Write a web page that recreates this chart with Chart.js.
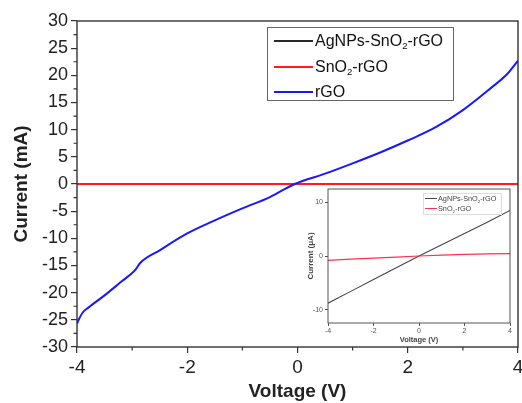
<!DOCTYPE html>
<html>
<head>
<meta charset="utf-8">
<script src="https://cdn.jsdelivr.net/npm/chart.js@4.4.1/dist/chart.umd.min.js"></script>
<style>
html, body { margin: 0; padding: 0; background: #fff; }
#wrap { position: relative; width: 522px; height: 403px; overflow: hidden; font-family: "Liberation Sans", Arial, sans-serif; }
#main { position: absolute; left: 0; top: 0; }
#inset { position: absolute; left: 296px; top: 186px; background: #fff; }
.legend { position: absolute; color: #111; }
.legend .row { position: absolute; left: 0; display: flex; align-items: center; white-space: nowrap; }
.legend .sw { display: inline-block; }
.legend sub { font-size: 0.6em; vertical-align: -0.35em; line-height: 0; }
</style>
</head>
<body>
<div id="wrap">
  <canvas id="main" width="522" height="403"></canvas>
  <canvas id="inset" width="220" height="158"></canvas>
  <div id="legendMain" class="legend"></div>
  <div id="legendInset" class="legend"></div>
</div>
<script>
// series names + colours
const seriesNames = ['AgNPs-SnO₂-rGO', 'SnO₂-rGO', 'rGO'];
const seriesColors = ['#2a2a2a', '#ff1c1c', '#1818ff'];

// rGO sweep, main plot (V, mA)
const rgoVoltage = [-4, -3.97, -3.9, -3.8, -3.5, -3.2, -2.95, -2.85, -2.5, -2, -1.5, -1, -0.5, -0.05, 0.5, 1, 1.5, 2, 2.5, 3, 3.5, 3.8, 4];
const rgoCurrent = [-25.7, -25.0, -23.7, -22.8, -20.5, -18.0, -15.9, -14.5, -12.2, -9.1, -6.7, -4.5, -2.4, 0, 1.9, 3.8, 5.8, 8.0, 10.4, 13.6, 17.6, 20.2, 22.7];

// inset sweep (V, uA)
const insetVoltage = [-4, -3, -2, -1, 0, 1, 2, 3, 4];
const agCurrent = [-8.8, -6.6, -4.4, -2.2, 0, 2.1, 4.2, 6.3, 8.5];
const snCurrent = [-0.8, -0.6, -0.4, -0.2, 0, 0.15, 0.3, 0.4, 0.45];

// tick labels
const mainXTicks = [-4, -2, 0, 2, 4];
const mainYTicks = [-30, -25, -20, -15, -10, -5, 0, 5, 10, 15, 20, 25, 30];
const insetXTicks = [-4, -2, 0, 2, 4];
const insetYTicks = [-10, 0, 10];

const FONT = '"Liberation Sans", Arial, sans-serif';

function pts(xs, ys, k) {
    return xs.map(function(x, i){ return {x: x, y: ys[i] * (k || 1)}; });
}
function setTicks(list) {
    return function(scale){ scale.ticks = list.map(function(v){ return {value: v}; }); };
}
function labelHtml(s) {
    return s.replace(/₂/g, '<sub>2</sub>');
}
function noOverhang(s) {
    s.paddingLeft = 0; s.paddingRight = 0; s.paddingTop = 0; s.paddingBottom = 0;
}

// frame + minor ticks for main plot
const mainFrame = {
    id: 'mainFrame',
    afterDraw: function(chart){
        const ctx = chart.ctx, a = chart.chartArea;
        const xs = chart.scales.x, ys = chart.scales.y;
        ctx.save();
        ctx.strokeStyle = '#333';
        ctx.lineWidth = 1.4;
        ctx.strokeRect(a.left, a.top, a.right - a.left, a.bottom - a.top);
        ctx.lineWidth = 1.2;
        ctx.beginPath();
        [-3, -1, 1, 3].forEach(function(v){
            const px = xs.getPixelForValue(v);
            ctx.moveTo(px, a.bottom); ctx.lineTo(px, a.bottom + 3.5);
        });
        for (let v = -27.5; v < 30; v += 5) {
            const py = ys.getPixelForValue(v);
            ctx.moveTo(a.left, py); ctx.lineTo(a.left - 3.5, py);
        }
        ctx.stroke();
        ctx.restore();
    }
};

// frame for inset
const insetFrame = {
    id: 'insetFrame',
    afterDraw: function(chart){
        const ctx = chart.ctx, a = chart.chartArea;
        ctx.save();
        ctx.strokeStyle = '#555';
        ctx.lineWidth = 1;
        ctx.strokeRect(a.left, a.top, a.right - a.left, a.bottom - a.top);
        ctx.restore();
    }
};

new Chart(document.getElementById('main'), {
    type: 'line',
    data: {
        datasets: [
            {label: seriesNames[0], data: pts(insetVoltage, agCurrent, 0.001), borderColor: seriesColors[0], borderWidth: 2, order: 3},
            {label: seriesNames[1], data: pts(insetVoltage, snCurrent, 0.001), borderColor: seriesColors[1], borderWidth: 2, order: 2},
            {label: seriesNames[2], data: pts(rgoVoltage, rgoCurrent), borderColor: seriesColors[2], borderWidth: 2, order: 1, cubicInterpolationMode: 'monotone'}
        ]
    },
    options: {
        responsive: false,
        animation: false,
        elements: {point: {radius: 0}},
        layout: {padding: {top: 21, right: 4, left: 0, bottom: 0}},
        plugins: {legend: {display: false}, tooltip: {enabled: false}},
        scales: {
            x: {
                type: 'linear', min: -4, max: 4,
                afterBuildTicks: setTicks(mainXTicks),
                afterFit: function(s){ s.height = 56; noOverhang(s); },
                border: {display: false},
                grid: {drawOnChartArea: false, drawTicks: true, tickLength: 6, color: '#333', lineWidth: 1.2},
                ticks: {color: '#222', padding: 3, font: {family: FONT, size: 19}, maxRotation: 0},
                title: {display: true, text: 'Voltage (V)', color: '#222', padding: {top: 0, bottom: 0}, font: {family: FONT, size: 19, weight: 'bold'}}
            },
            y: {
                min: -30, max: 30,
                afterBuildTicks: setTicks(mainYTicks),
                afterFit: function(s){ s.width = 77; noOverhang(s); },
                border: {display: false},
                grid: {drawOnChartArea: false, drawTicks: true, tickLength: 6, color: '#333', lineWidth: 1.2},
                ticks: {color: '#222', padding: 3, font: {family: FONT, size: 18}},
                title: {display: true, text: 'Current (mA)', color: '#222', padding: {top: 10, bottom: 0}, font: {family: FONT, size: 19, weight: 'bold'}}
            }
        }
    },
    plugins: [mainFrame]
});

new Chart(document.getElementById('inset'), {
    type: 'line',
    data: {
        datasets: [
            {label: seriesNames[0], data: pts(insetVoltage, agCurrent), borderColor: '#444', borderWidth: 1.1, order: 2},
            {label: seriesNames[1], data: pts(insetVoltage, snCurrent), borderColor: '#ff3050', borderWidth: 1.2, order: 1}
        ]
    },
    options: {
        responsive: false,
        animation: false,
        elements: {point: {radius: 0}},
        layout: {padding: {top: 3, right: 6, left: 0, bottom: 0}},
        plugins: {legend: {display: false}, tooltip: {enabled: false}},
        scales: {
            x: {
                type: 'linear', min: -4, max: 4,
                afterBuildTicks: setTicks(insetXTicks),
                afterFit: function(s){ s.height = 21; noOverhang(s); },
                border: {display: false},
                grid: {drawOnChartArea: false, drawTicks: true, tickLength: 3, color: '#555'},
                ticks: {color: '#555', padding: 1, font: {family: FONT, size: 7}, maxRotation: 0},
                title: {display: true, text: 'Voltage (V)', color: '#444', padding: 0, font: {family: FONT, size: 7.5, weight: 'bold'}}
            },
            y: {
                min: -12.5, max: 12.5,
                afterBuildTicks: setTicks(insetYTicks),
                afterFit: function(s){ s.width = 32; noOverhang(s); },
                border: {display: false},
                grid: {drawOnChartArea: false, drawTicks: true, tickLength: 3, color: '#555'},
                ticks: {color: '#555', padding: 2, font: {family: FONT, size: 7}},
                title: {display: true, text: 'Current (μA)', color: '#444', padding: {top: 10, bottom: 0}, font: {family: FONT, size: 8, weight: 'bold'}}
            }
        }
    },
    plugins: [insetFrame]
});

// HTML legends (real text, with subscripts)
function buildLegend(el, names, colors, opt) {
    el.style.left = opt.left + 'px';
    el.style.top = opt.top + 'px';
    el.style.width = opt.width + 'px';
    el.style.height = opt.height + 'px';
    if (opt.border) el.style.border = opt.border;
    names.forEach(function(n, i){
        const row = document.createElement('div');
        row.className = 'row';
        row.style.top = (opt.firstRow + i * opt.rowGap - opt.rowH / 2) + 'px';
        row.style.height = opt.rowH + 'px';
        row.style.fontSize = opt.fontSize + 'px';
        row.style.color = opt.color;
        const sw = document.createElement('span');
        sw.className = 'sw';
        sw.style.marginLeft = opt.swLeft + 'px';
        sw.style.width = opt.swW + 'px';
        sw.style.height = opt.swH + 'px';
        sw.style.background = colors[i];
        sw.style.marginRight = opt.gap + 'px';
        const tx = document.createElement('span');
        tx.innerHTML = labelHtml(n);
        row.appendChild(sw);
        row.appendChild(tx);
        el.appendChild(row);
    });
}

buildLegend(document.getElementById('legendMain'), seriesNames, seriesColors, {
    left: 267, top: 27, width: 185, height: 72, border: '1px solid #666',
    firstRow: 13, rowGap: 25.5, rowH: 20, fontSize: 16, color: '#111',
    swLeft: 6, swW: 39, swH: 2, gap: 2
});
buildLegend(document.getElementById('legendInset'), seriesNames.slice(0, 2), ['#444', '#ff3050'], {
    left: 423, top: 193, width: 77, height: 20, border: '1px solid #ddd',
    firstRow: 4.5, rowGap: 10, rowH: 9, fontSize: 7.3, color: '#444',
    swLeft: 1, swW: 12, swH: 1, gap: 1
});
</script>
</body>
</html>
